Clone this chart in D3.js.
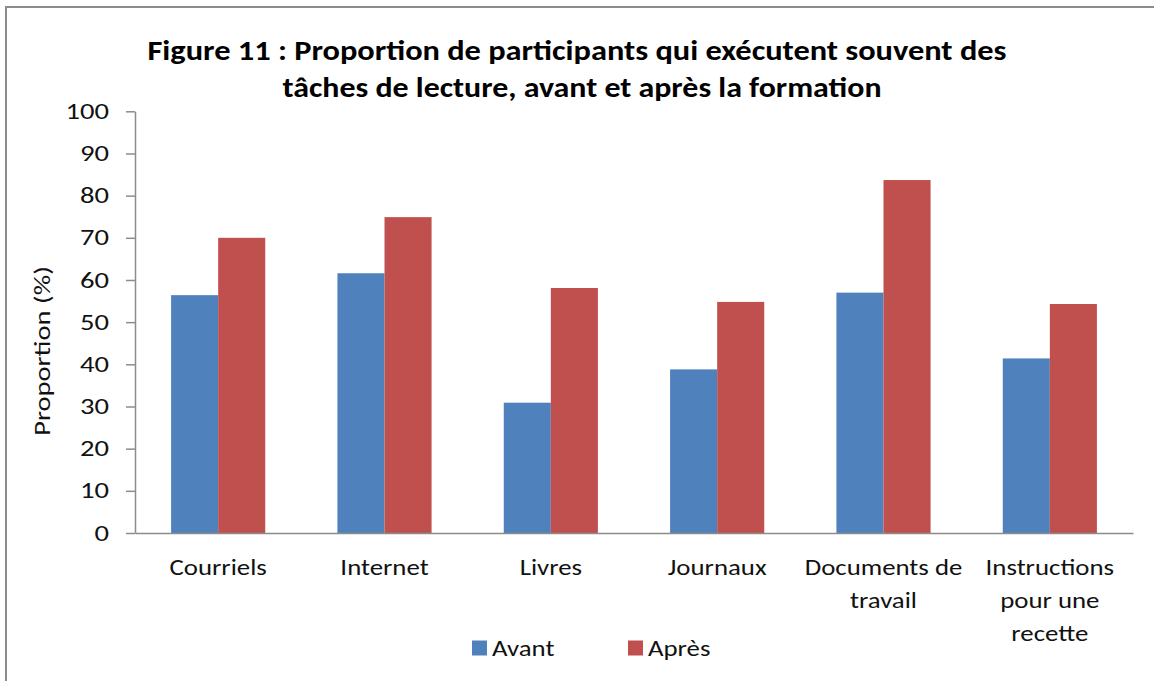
<!DOCTYPE html>
<html>
<head>
<meta charset="utf-8">
<script src="https://cdn.jsdelivr.net/npm/d3@7"></script>
<style>
  html, body { margin: 0; padding: 0; background: #fff; }
  svg { display: block; }
  text { font-family: Carlito, "Open Sans", sans-serif; }
</style>
</head>
<body>
<svg id="chart" width="1154" height="681"></svg>
<script>
const categories = [["Courriels"], ["Internet"], ["Livres"], ["Journaux"], ["Documents de", "travail"], ["Instructions", "pour une", "recette"]];
const seriesNames = ["Avant", "Après"];
const avant = [56.4, 61.6, 30.9, 38.8, 57.0, 41.4];
const apres = [70.0, 74.9, 58.1, 54.8, 83.7, 54.3];
const yTicks = [0, 10, 20, 30, 40, 50, 60, 70, 80, 90, 100];
const titleLines = ["Figure 11 : Proportion de participants qui exécutent souvent des", "tâches de lecture, avant et après la formation"];
const yTitle = "Proportion (%)";
const colors = ["#4F81BD", "#C0504D"];

const FS = 22;      // font size
const SX = 1.22;    // horizontal stretch of the reference's text
const SXT = 1.3;    // stretch for tick labels / axis title
const svg = d3.select("#chart");
const margin = {left: 135, right: 21, top: 111.3, bottom: 148};
const W = 1154, H = 681;
const plotW = W - margin.left - margin.right;
const plotH = H - margin.top - margin.bottom;

// border
svg.append("rect").attr("x", 6).attr("y", 7).attr("width", 1160).attr("height", 700)
  .attr("fill", "none").attr("stroke", "#8c8c8c").attr("stroke-width", 2);

const g = svg.append("g").attr("transform", `translate(${margin.left},${margin.top})`);

const x0 = d3.scaleBand().domain(d3.range(categories.length)).range([0, plotW]).paddingInner(0.434).paddingOuter(0.217);
const x1 = d3.scaleBand().domain(seriesNames).range([0, x0.bandwidth()]);
const y = d3.scaleLinear().domain([0, 100]).range([plotH, 0]);

// bars
const data = categories.map((c, i) => ({i, vals: [avant[i], apres[i]]}));
const grp = g.selectAll(".grp").data(data).join("g")
  .attr("transform", d => `translate(${x0(d.i)},0)`);
grp.selectAll("rect").data(d => d.vals.map((v, k) => ({v, k}))).join("rect")
  .attr("x", d => x1(seriesNames[d.k]))
  .attr("y", d => y(d.v))
  .attr("width", x1.bandwidth())
  .attr("height", d => plotH - y(d.v))
  .attr("fill", d => colors[d.k]);

// y axis
const yAxis = d3.axisLeft(y).tickValues(yTicks).tickSizeOuter(0).tickSizeInner(9).tickPadding(17);
const ya = g.append("g").call(yAxis);
ya.select(".domain").attr("stroke", "#8c8c8c").attr("stroke-width", 1.5);
ya.selectAll(".tick line").attr("stroke", "#8c8c8c").attr("stroke-width", 1.5);
ya.selectAll(".tick text")
  .attr("x", 0)
  .attr("transform", `translate(-26,0) scale(${SXT},1)`)
  .attr("font-size", FS).attr("fill", "#111")
  .style("font-family", "Carlito, 'Open Sans', sans-serif");

// x axis line
const xa = g.append("g").attr("transform", `translate(0,${plotH})`)
  .call(d3.axisBottom(x0).tickSize(0).tickFormat(""));
xa.select(".domain").attr("stroke", "#8c8c8c").attr("stroke-width", 1.5);

// category labels
const lab = g.append("g");
categories.forEach((lines, i) => {
  const cx = x0(i) + x0.bandwidth() / 2;
  const t = lab.append("text").attr("text-anchor", "middle")
    .attr("transform", `translate(${cx},${plotH + 42}) scale(${SX},1)`)
    .attr("font-size", FS).attr("fill", "#111");
  lines.forEach((l, j) => {
    t.append("tspan").attr("x", 0).attr("dy", j === 0 ? 0 : 33).text(l);
  });
});

// y title
svg.append("text").attr("transform", `translate(50,351) rotate(-90) scale(${SXT},1)`)
  .attr("text-anchor", "middle").attr("font-size", FS).attr("fill", "#111").text(yTitle);

// title
const titleY = [60, 97];
const titleW = [859, 599];
titleLines.forEach((l, i) => {
  svg.append("text").attr("x", 577 + (i === 1 ? 5 : 0)).attr("y", titleY[i])
    .attr("text-anchor", "middle").attr("font-size", 28).attr("font-weight", "bold").attr("fill", "#000")
    .attr("textLength", titleW[i]).attr("lengthAdjust", "spacingAndGlyphs")
    .text(l);
});

// legend
const legX = [472, 628];
seriesNames.forEach((s, i) => {
  svg.append("rect").attr("x", legX[i]).attr("y", 640.5).attr("width", 15).attr("height", 15).attr("fill", colors[i]);
  svg.append("text").attr("transform", `translate(${legX[i] + 20},655.5) scale(${SX},1)`)
    .attr("font-size", FS).attr("fill", "#111").text(s);
});
</script>
</body>
</html>
